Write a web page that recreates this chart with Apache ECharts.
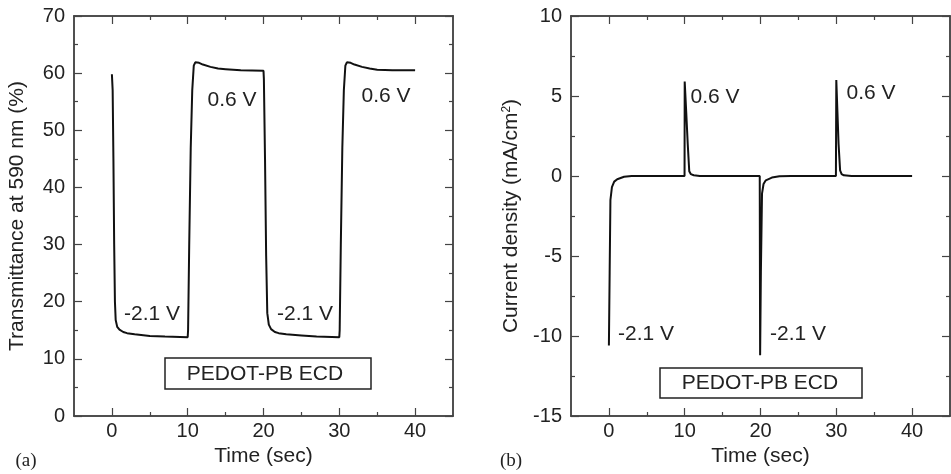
<!DOCTYPE html>
<html>
<head>
<meta charset="utf-8">
<script src="https://cdn.jsdelivr.net/npm/echarts@6/dist/echarts.min.js"></script>
<style>
  html, body { margin: 0; padding: 0; background: #fff; }
  #chart { width: 951px; height: 474px; }
</style>
</head>
<body>
<div id="chart"></div>
<script>
// (a) transmittance at 590 nm vs time
const transmittance = [
  [0, 59.8], [0.1, 57], [0.2, 45], [0.3, 30], [0.4, 20], [0.5, 16.8], [0.7, 15.6],
  [1, 15.1], [1.5, 14.7], [2, 14.5], [3, 14.3], [5, 14.0], [7, 13.9], [10, 13.8],
  [10.05, 15], [10.2, 30], [10.4, 47], [10.6, 57], [10.8, 61.3], [11, 61.9],
  [11.5, 61.8], [12, 61.5], [13, 61.1], [14, 60.8], [15, 60.7], [17, 60.5], [20, 60.4],
  [20.05, 59], [20.2, 45], [20.35, 28], [20.5, 18], [20.7, 16], [21, 15.2],
  [21.5, 14.7], [22, 14.5], [23, 14.3], [25, 14.1], [27, 13.9], [30, 13.8],
  [30.05, 15], [30.2, 30], [30.4, 47], [30.6, 57], [30.8, 61.3], [31, 61.9],
  [31.5, 61.8], [32, 61.5], [33, 61.1], [34, 60.8], [35, 60.6], [37, 60.5], [40, 60.5]
];

// (b) current density vs time
const currentDensity = [
  [0, -10.6], [0.1, -6], [0.2, -1.5], [0.4, -0.7], [0.7, -0.35], [1.1, -0.2],
  [2, -0.05], [3, 0], [9.98, 0],
  [10, 5.9], [10.2, 4], [10.4, 2], [10.6, 0.3], [10.8, 0.12], [11.2, 0.05], [12, 0],
  [19.9, 0], [19.95, -11.2], [20.05, -6], [20.2, -1.1], [20.4, -0.5], [20.7, -0.27],
  [21.5, -0.1], [22.5, -0.02], [24, 0], [29.95, 0],
  [30, 6.0], [30.15, 4], [30.3, 2], [30.5, 0.35], [30.7, 0.12], [31, 0.04], [32, 0],
  [40, 0]
];

const xMajor = [0, 10, 20, 30, 40];
const xMinor = [5, 15, 25, 35];
const leftYMajor = [0, 10, 20, 30, 40, 50, 60, 70];
const leftYMinor = [5, 15, 25, 35, 45, 55, 65];
const rightYMajor = [-15, -10, -5, 0, 5, 10];
const rightYMinor = [-12.5, -7.5, -2.5, 2.5, 7.5];

const FONT = 'Liberation Sans';
const INK = '#222';
const FRAME = '#444';

const chart = echarts.init(document.getElementById('chart'));

// one axis = one set of ticks (major long / minor short); labels only on the main one
function axisBase(extra, ticks, len, labelled) {
  return Object.assign({
    type: 'value',
    axisLine: { show: true, onZero: false, lineStyle: { color: FRAME, width: 1.5 } },
    axisTick: { show: true, inside: true, length: len, customValues: ticks, lineStyle: { color: FRAME, width: 1.2 } },
    axisLabel: {
      show: labelled, fontFamily: FONT, fontSize: 20, color: INK,
      customValues: ticks
    },
    splitLine: { show: false },
    nameTextStyle: {
      fontFamily: FONT, fontSize: 21, color: INK,
      rich: { sup: { fontFamily: FONT, fontSize: 12, color: INK, verticalAlign: 'top', padding: [0, 0, 7, 0] } }
    }
  }, extra);
}

function xAxes(gridIndex) {
  const common = { gridIndex: gridIndex, min: -5, max: 45, interval: 5 };
  const main = axisBase(Object.assign({ position: 'bottom', name: 'Time (sec)', nameLocation: 'middle', nameGap: 29 }, common), xMajor, 8, true);
  main.axisLabel.margin = 5;
  return [
    main,
    axisBase(Object.assign({ position: 'bottom' }, common), xMinor, 4, false),
    axisBase(Object.assign({ position: 'top' }, common), xMajor, 8, false),
    axisBase(Object.assign({ position: 'top' }, common), xMinor, 4, false)
  ];
}

function yAxes(gridIndex, min, max, step, major, minor, name, gap) {
  const common = { gridIndex: gridIndex, min: min, max: max, interval: step };
  const main = axisBase(Object.assign({ position: 'left', name: name, nameLocation: 'middle', nameGap: gap }, common), major, 8, true);
  main.axisLabel.margin = 9;
  return [
    main,
    axisBase(Object.assign({ position: 'left' }, common), minor, 4, false),
    axisBase(Object.assign({ position: 'right' }, common), major, 8, false),
    axisBase(Object.assign({ position: 'right' }, common), minor, 4, false)
  ];
}

function txt(x, y, s, size, family) {
  return {
    type: 'text', x: x, y: y,
    style: { text: s, fontFamily: family || FONT, fontSize: size || 21, fill: INK, align: 'center', verticalAlign: 'middle' }
  };
}

function box(x, y, w, h) {
  return {
    type: 'rect', shape: { x: x, y: y, width: w, height: h },
    style: { fill: '#fff', stroke: '#222', lineWidth: 1.5 }
  };
}

const option = {
  backgroundColor: '#fff',
  animation: false,
  grid: [
    { left: 74, top: 16, width: 379, height: 400 },
    { left: 571, top: 16, width: 379, height: 400 }
  ],
  xAxis: xAxes(0).concat(xAxes(1)),
  yAxis: yAxes(0, 0, 70, 5, leftYMajor, leftYMinor, 'Transmittance at 590 nm (%)', 46)
    .concat(yAxes(1, -15, 10, 2.5, rightYMajor, rightYMinor, 'Current density (mA/cm{sup|2})', 49)),
  series: [
    {
      type: 'line', xAxisIndex: 0, yAxisIndex: 0, data: transmittance,
      showSymbol: false, lineStyle: { color: '#111', width: 2 }, z: 3
    },
    {
      type: 'line', xAxisIndex: 4, yAxisIndex: 4, data: currentDensity,
      showSymbol: false, lineStyle: { color: '#111', width: 2 }, z: 3
    }
  ],
  graphic: [
    box(165, 358, 206, 31),
    txt(265, 374, 'PEDOT-PB ECD'),
    txt(232, 100, '0.6 V'),
    txt(386, 96, '0.6 V'),
    txt(152, 314, '-2.1 V'),
    txt(305, 314, '-2.1 V'),
    txt(26, 461, '(a)', 19, 'Liberation Serif'),

    box(660, 368, 202, 30),
    txt(760, 383, 'PEDOT-PB ECD'),
    txt(715, 97, '0.6 V'),
    txt(871, 93, '0.6 V'),
    txt(646, 334, '-2.1 V'),
    txt(798, 334, '-2.1 V'),
    txt(511, 461, '(b)', 19, 'Liberation Serif')
  ]
};

chart.setOption(option);
</script>
</body>
</html>
